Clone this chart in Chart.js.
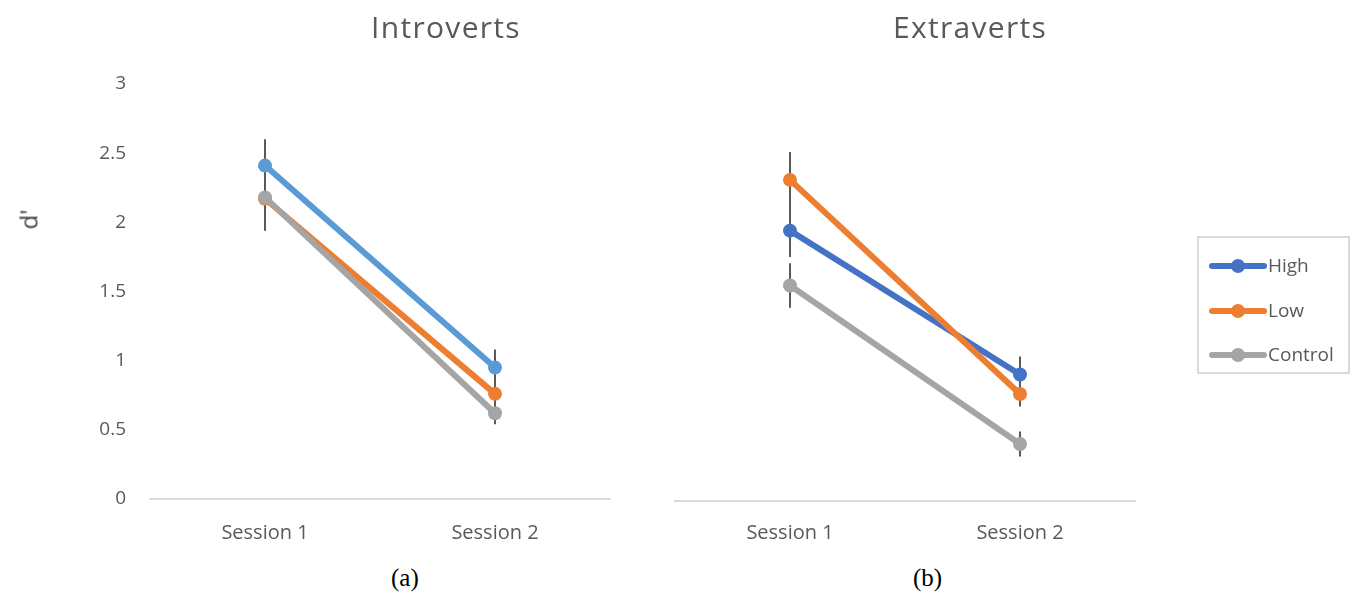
<!DOCTYPE html>
<html lang="en">
<head>
    <meta charset="UTF-8" />
    <title>d' by session | Introverts vs Extraverts</title>
    <script src="https://cdn.jsdelivr.net/npm/chart.js"></script>
    <style>
        body { margin: 0; background: #fff; width: 1357px; height: 598px; position: relative; overflow: hidden; font-family: "Open Sans", sans-serif; }
        .panel { position: absolute; top: 0; height: 560px; }
        #leftPanel { left: 0; width: 640px; }
        #rightPanel { left: 640px; width: 660px; }
        .title { position: absolute; top: 10px; width: 400px; margin-left: -200px; text-align: center; font-size: 30px; line-height: 34px; letter-spacing: 1.3px; color: #595959; }
        .caption { position: absolute; top: 564px; font-family: "Liberation Serif", "Times New Roman", serif; font-size: 25px; color: #000; }
        .ytitle { position: absolute; left: 18px; top: 203px; font-size: 24px; color: #404040; transform: rotate(-90deg); transform-origin: center; }
        .legend { position: absolute; left: 1197px; top: 236px; width: 153px; height: 138px; border: 2px solid #d9d9d9; box-sizing: border-box; }
        .legend .item { position: absolute; left: 10px; height: 24px; }
        .legend .line { position: absolute; left: 0; top: 9px; width: 58px; height: 6px; border-radius: 3px; }
        .legend .dot { position: absolute; left: 22px; top: 5px; width: 14px; height: 14px; border-radius: 50%; }
        .legend .label { position: absolute; left: 59px; top: -2px; font-size: 19px; color: #595959; white-space: nowrap; }
    </style>
</head>
<body>

    <div class="panel" id="leftPanel"><canvas id="introChart"></canvas></div>
    <div class="panel" id="rightPanel"><canvas id="extraChart"></canvas></div>

    <!-- Excel centred the titles over the whole chart box, not the plot area -->
    <div class="title" style="left:446px">Introverts</div>
    <div class="title" style="left:970px">Extraverts</div>

    <div class="ytitle">d'</div>
    <div class="caption" style="left:391px">(a)</div>
    <div class="caption" style="left:913px">(b)</div>

    <div class="legend" id="legend"></div>

    <script>
        const sessions = ['Session 1', 'Session 2'];
        const yTicks = [0, 0.5, 1, 1.5, 2, 2.5, 3];

        // Introverts
        const introHigh = [2.41, 0.95];
        const introLow = [2.17, 0.76];
        const introControl = [2.18, 0.62];
        const introHighErr = [0.19, 0.13];
        const introLowErr = [0.23, 0.12];
        const introControlErr = [0.20, 0.08];

        // Extraverts
        const extraHigh = [1.945, 0.91];
        const extraLow = [2.31, 0.77];
        const extraControl = [1.55, 0.41];
        const extraHighErr = [0.19, 0.13];
        const extraLowErr = [0.20, 0.09];
        const extraControlErr = [0.16, 0.09];

        const colors = { high: '#4472C4', highLight: '#5B9BD5', low: '#ED7D31', control: '#A5A5A5' };
        const textGrey = '#595959';

        // vertical error bars, drawn under the lines
        const errorBars = {
            id: 'errorBars',
            beforeDatasetsDraw(chart) {
                const ctx = chart.ctx;
                const y = chart.scales.y;
                ctx.save();
                ctx.strokeStyle = '#595959';
                ctx.lineWidth = 2;
                chart.data.datasets.forEach((ds, i) => {
                    chart.getDatasetMeta(i).data.forEach((pt, j) => {
                        const v = ds.data[j], e = ds.errors[j];
                        ctx.beginPath();
                        ctx.moveTo(pt.x, y.getPixelForValue(v + e));
                        ctx.lineTo(pt.x, y.getPixelForValue(v - e));
                        ctx.stroke();
                    });
                });
                ctx.restore();
            }
        };

        function series(label, data, errors, color, order) {
            return {
                label, data, errors, order,
                borderColor: color,
                backgroundColor: color,
                borderWidth: 6,
                pointRadius: 7,
                pointHoverRadius: 7,
                pointBorderWidth: 0,
                tension: 0
            };
        }

        function makeChart(id, datasets, showY, padding, tickPad) {
            return new Chart(document.getElementById(id), {
                type: 'line',
                data: { labels: sessions, datasets },
                plugins: [errorBars],
                options: {
                    responsive: true,
                    maintainAspectRatio: false,
                    animation: false,
                    layout: { padding },
                    plugins: {
                        legend: { display: false },
                        tooltip: { enabled: false }
                    },
                    scales: {
                        x: {
                            offset: true,
                            grid: { display: false, drawTicks: false },
                            border: { display: true, color: '#d9d9d9', width: 2 },
                            ticks: { color: textGrey, padding: tickPad, font: { family: 'Open Sans', size: 20 } },
                            afterFit: s => { s.height = 50; }
                        },
                        y: {
                            display: showY,
                            min: 0,
                            max: 3,
                            afterBuildTicks: s => { s.ticks = yTicks.map(v => ({ value: v })); },
                            grid: { display: false, drawTicks: false },
                            border: { display: false },
                            ticks: {
                                color: textGrey, padding: 24,
                                font: { family: 'Open Sans', size: 19 },
                                callback: v => String(v)
                            },
                            afterFit: s => { if (showY) s.width = 150; }
                        }
                    }
                }
            });
        }

        makeChart('introChart', [
            series('High', introHigh, introHighErr, colors.highLight, 2),
            series('Low', introLow, introLowErr, colors.low, 1),
            series('Control', introControl, introControlErr, colors.control, 0)
        ], true, { left: 0, right: 30, top: 84, bottom: 11 }, 22);

        makeChart('extraChart', [
            series('High', extraHigh, extraHighErr, colors.high, 2),
            series('Low', extraLow, extraLowErr, colors.low, 1),
            series('Control', extraControl, extraControlErr, colors.control, 0)
        ], false, { left: 35, right: 165, top: 84, bottom: 9 }, 20);

        // legend box
        const legend = document.getElementById('legend');
        [['High', colors.high], ['Low', colors.low], ['Control', colors.control]].forEach(([name, c], i) => {
            const item = document.createElement('div');
            item.className = 'item';
            item.style.top = (16 + i * 44.5) + 'px';
            item.innerHTML = `<div class="line" style="background:${c}"></div><div class="dot" style="background:${c}"></div><div class="label">${name}</div>`;
            legend.appendChild(item);
        });
    </script>

</body>
</html>
